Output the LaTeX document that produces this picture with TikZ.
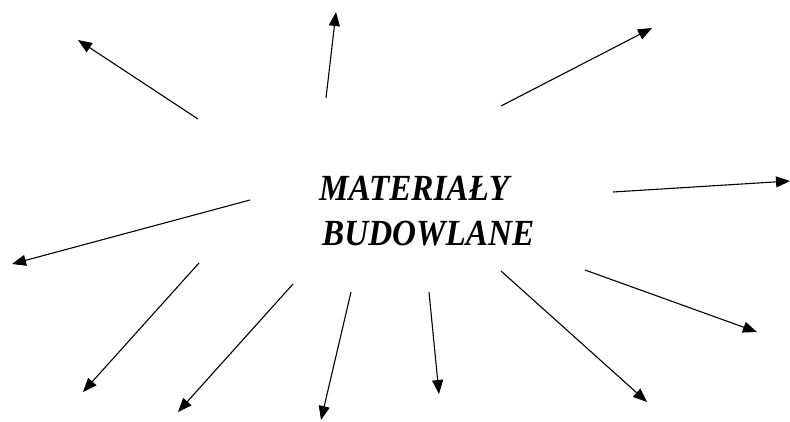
\documentclass[tikz,border=0pt]{standalone}
\usepackage{fontspec}
\usepackage{graphicx}
\setmainfont{Liberation Serif}
\usetikzlibrary{arrows.meta}
\newcommand{\narrowtxt}[1]{\scalebox{0.9}[1]{#1}}
\begin{document}
\begin{tikzpicture}[x=1bp,y=-1bp,
  ray/.style={line width=1.1bp,-{Triangle[length=14bp,width=11bp]}},
  title/.style={font=\fontsize{37}{44}\selectfont\bfseries\itshape,inner sep=0pt,anchor=base west}]
\useasboundingbox (0,0) rectangle (790,421);
\node[title] (t1) at (319,200) {\narrowtxt{MATERIAŁY}};
\node[title] (t2) at (322,245) {\narrowtxt{BUDOWLANE}};
\foreach \i/\sx/\sy/\ex/\ey in {
  1/198/119/78/40,
  2/326/98/336/12,
  3/501/106/652/28,
  4/613/192/790/181,
  5/250/200/12/264,
  6/199/263/83/392,
  7/293/284/178/412,
  8/351/292/321/420,
  9/429/292/439/394,
  10/501/271/647/402,
  11/585/270/757/332} {
  \coordinate (s\i) at (\sx,\sy);
  \coordinate (e\i) at (\ex,\ey);
  \draw[ray] (s\i) -- (e\i);
}
\end{tikzpicture}
\end{document}
